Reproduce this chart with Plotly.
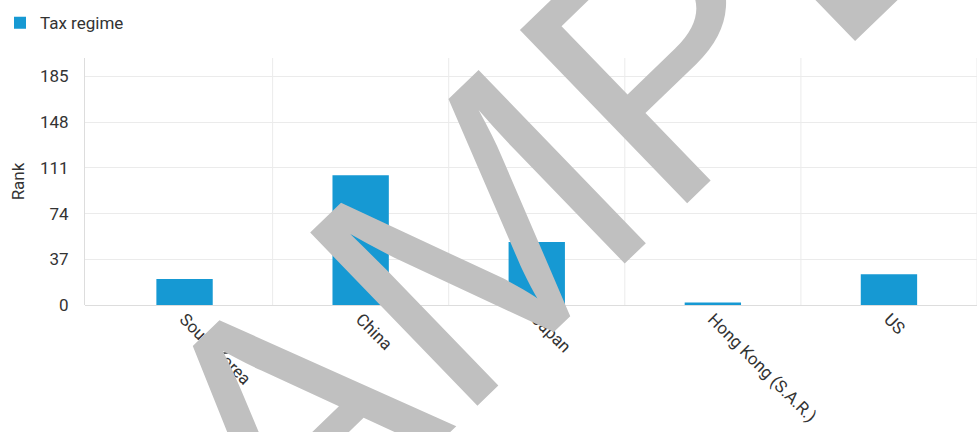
import plotly.graph_objects as go

categories = ["South Korea", "China", "Japan", "Hong Kong (S.A.R.)", "US"]
tax_rank = [21, 105, 51, 2, 25]
series_name = "Tax regime"
y_ticks = [0, 37, 74, 111, 148, 185]
y_title = "Rank"
watermark = "SAMPLE"

W, H = 979, 432
ML, MR, MT, MB = 85, 2, 58, 127

bar_color = "#1699d3"
grid_color = "#ebebeb"
text_color = "#333333"
FS = 17

fig = go.Figure()
fig.add_trace(go.Bar(
    x=list(range(len(categories))), y=tax_rank, name=series_name,
    marker=dict(color=bar_color, line=dict(width=0)), width=0.32,
    showlegend=True,
))

# vertical grid lines at category boundaries
for i in range(len(categories)):
    fig.add_shape(type="line", xref="x", yref="paper", x0=i + 0.5, x1=i + 0.5,
                  y0=0, y1=1, line=dict(color=grid_color, width=1), layer="below")

pad = 11.5 / 176
fig.update_layout(
    width=W, height=H,
    margin=dict(l=ML, r=MR, t=MT, b=MB, pad=0),
    paper_bgcolor="white", plot_bgcolor="white",
    font=dict(family="Roboto, sans-serif", size=FS, color=text_color),
    showlegend=True,
    legend=dict(xref="container", yref="container", x=-0.014, y=0.988,
                xanchor="left", yanchor="top", orientation="h",
                font=dict(size=FS, color=text_color), bgcolor="rgba(0,0,0,0)"),
    xaxis=dict(
        range=[-0.5 - pad, len(categories) - 0.5],
        tickmode="array", tickvals=list(range(len(categories))), ticktext=categories,
        tickangle=45, showgrid=False, zeroline=False,
        showline=False, ticks="", tickfont=dict(size=FS, color=text_color),
    ),
    yaxis=dict(
        range=[0, 200], tickmode="array", tickvals=y_ticks,
        showgrid=True, gridcolor=grid_color, gridwidth=1,
        zeroline=True, zerolinecolor="#dddddd", zerolinewidth=1,
        showline=True, linecolor="#dddddd", linewidth=1,
        ticks="outside", ticklen=12, tickcolor="rgba(0,0,0,0)",
        tickfont=dict(size=FS, color=text_color),
        title=dict(text=y_title, font=dict(size=FS, color=text_color), standoff=10),
    ),
)

fig.add_annotation(
    text=watermark, xref="paper", yref="paper", x=0.518, y=0.55,
    xanchor="center", yanchor="middle", showarrow=False, textangle=-44,
    font=dict(family="Liberation Sans, Arial, sans-serif", size=350, color="#c0c0c0"),
)

fig.write_html("out.html")
